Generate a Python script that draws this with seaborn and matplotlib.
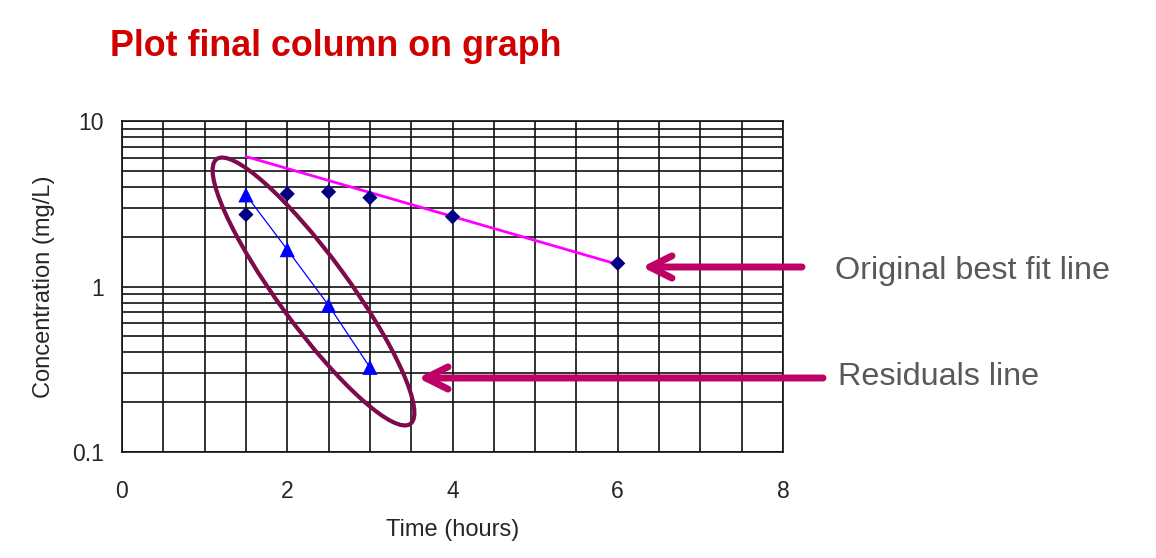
import matplotlib
matplotlib.use('Agg')
import matplotlib.pyplot as plt
from matplotlib import ticker
from matplotlib.patches import Ellipse
import seaborn as sns
import pandas as pd

# 数据
obs_time = [1.5, 2, 2.5, 3, 4, 6]
obs_conc = [2.72, 3.63, 3.73, 3.44, 2.64, 1.38]
fit_time = [1.5, 6]
fit_conc = [6.1, 1.36]
res_time = [1.5, 2, 2.5, 3]
res_conc = [3.58, 1.67, 0.77, 0.325]

sns.set_style('white')
plt.rcParams['font.family'] = ['Liberation Sans', 'DejaVu Sans']

W, H = 1156, 558
fig = plt.figure(figsize=(W / 100, H / 100), dpi=100)
ax = fig.add_axes([122 / W, 1 - 452 / H, (783 - 122) / W, (452 - 121) / H])

grid_c = '#111111'
ax.set_yscale('log')
ax.set_xlim(0, 8)
ax.set_ylim(0.1, 10)
ax.set_axisbelow(True)
ax.grid(which='both', color=grid_c, lw=1.2)

ax.xaxis.set_major_locator(ticker.MultipleLocator(2))
ax.xaxis.set_minor_locator(ticker.MultipleLocator(0.5))
ax.yaxis.set_major_locator(ticker.LogLocator(base=10))
ax.yaxis.set_minor_locator(ticker.LogLocator(base=10, subs=range(2, 10)))
ax.yaxis.set_major_formatter(ticker.FuncFormatter(lambda v, p: f'{v:g}'))
ax.yaxis.set_minor_formatter(ticker.NullFormatter())
ax.tick_params(which='major', length=8, width=1.2, color=grid_c, labelsize=16.5)
ax.tick_params(axis='x', which='major', pad=12)
ax.tick_params(axis='y', which='major', pad=5)
ax.tick_params(which='minor', length=0)
for s in ax.spines.values():
    s.set_color(grid_c)
    s.set_linewidth(1.2)

# 折线和散点
sns.lineplot(x=fit_time, y=fit_conc, ax=ax, color='#FF00FF', lw=2, zorder=3)
sns.lineplot(x=res_time, y=res_conc, ax=ax, color='#0000FF', lw=0.9, zorder=3)
sns.scatterplot(x=obs_time, y=obs_conc, ax=ax, marker='D', s=60, color='#000080',
                edgecolor='none', zorder=4)
sns.scatterplot(x=res_time, y=res_conc, ax=ax, marker='^', s=120, color='#0000FF',
                edgecolor='none', zorder=4)

ax.set_xlabel('Time (hours)', fontsize=17, labelpad=12)
ax.set_ylabel('Concentration (mg/L)', fontsize=17, labelpad=12)

# 椭圆圈住残差点
ell = Ellipse((3.135, 2.665), width=3.28, height=0.7, angle=-53.8,
              transform=fig.dpi_scale_trans, fill=False, edgecolor='#7D0A4B', lw=3, zorder=5)
fig.add_artist(ell)

# 箭头
arrow_c = '#BF0066'
for (x0, x1, y) in [(802, 642, H - 267), (823, 418, H - 378)]:
    ax.annotate('', xy=(x1, y), xytext=(x0, y), xycoords='figure pixels',
                textcoords='figure pixels', annotation_clip=False,
                arrowprops=dict(arrowstyle='->,head_length=1.6,head_width=0.8',
                                color=arrow_c, lw=5, shrinkA=0, shrinkB=0))

fig.text(835 / W, 1 - 271 / H, 'Original best fit line', fontsize=23.3, color='#595959',
         va='center', ha='left')
fig.text(838 / W, 1 - 377 / H, 'Residuals line', fontsize=23.3, color='#595959',
         va='center', ha='left')

fig.text(110 / W, 1 - 46 / H, 'Plot final column on graph', fontsize=25.8, color='#D00000',
         fontweight='bold', va='center', ha='left')

fig.savefig('out.png', dpi=100)
plt.close(fig)
